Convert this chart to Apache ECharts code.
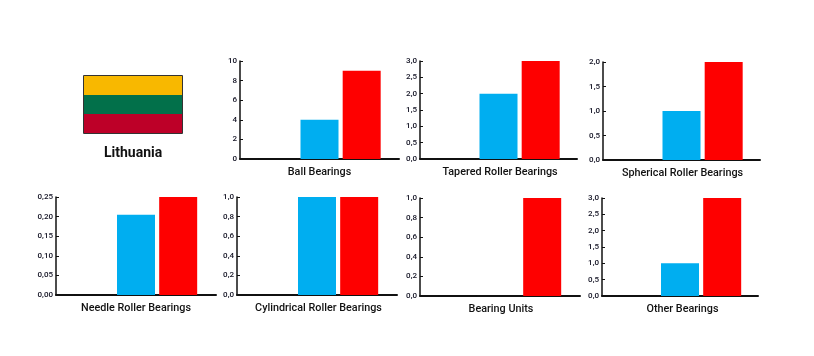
<!DOCTYPE html>
<html>
<head>
<meta charset="utf-8">
<script src="https://cdn.jsdelivr.net/npm/echarts@6/dist/echarts.min.js"></script>
<style>
html, body { margin: 0; padding: 0; background: #fff; }
#main { width: 814px; height: 356px; }
</style>
</head>
<body>
<div id="main"></div>
<script>
const countryName = 'Lithuania';
const categories = ['Ball Bearings', 'Tapered Roller Bearings', 'Spherical Roller Bearings', 'Needle Roller Bearings', 'Cylindrical Roller Bearings', 'Bearing Units', 'Other Bearings'];
const blackValues = [0, 0, 0, 0, 0, 0, 0];
const blueValues = [4, 2, 1, 0.205, 1, 0, 1];
const redValues = [9, 3, 2, 0.25, 1, 1, 3];
const axisMax = [10, 3, 2, 0.25, 1, 1, 3];
const axisStep = [2, 0.5, 0.5, 0.05, 0.2, 0.2, 0.5];
const axisDigits = [0, 1, 1, 2, 1, 1, 1];
const flagColors = ['#f8b800', '#02704a', '#bd0028'];

// panel boxes [left, top, width, height]
const boxes = [
  [240, 61, 159, 98],
  [420, 61, 157, 98],
  [603, 62, 157, 98],
  [56, 197, 160, 98],
  [237, 197, 160, 98],
  [420, 198, 160, 98],
  [602, 198, 156, 98],
];
// left padding that nudges each category label sideways
const labelNudge = [0, 3, 2, 0, 3, 2, 5];

const font = 'Roboto';
const grid = [], xAxis = [], yAxis = [], series = [];

categories.forEach((name, i) => {
  const box = boxes[i];
  grid.push({ left: box[0], top: box[1], width: box[2], height: box[3], containLabel: false });
  xAxis.push({
    type: 'category',
    gridIndex: i,
    data: [name],
    axisTick: { show: false },
    axisLine: { lineStyle: { color: '#111', width: 2 } },
    axisLabel: {
      color: '#111',
      fontFamily: font,
      fontWeight: 500,
      fontSize: 10.8,
      margin: 8,
      padding: [0, 0, 0, labelNudge[i]],
    },
  });
  yAxis.push({
    type: 'value',
    gridIndex: i,
    min: 0,
    max: axisMax[i],
    interval: axisStep[i],
    splitLine: { show: false },
    axisLine: { show: true, lineStyle: { color: '#111', width: 1.5 } },
    axisTick: { show: true, length: 3, inside: true, lineStyle: { color: '#111', width: 1 } },
    axisLabel: {
      color: '#112',
      fontFamily: font,
      fontWeight: 500,
      fontSize: 8,
      margin: 3,
      formatter: v => v.toFixed(axisDigits[i]).replace('.', ','),
    },
  });
  const common = { type: 'bar', xAxisIndex: i, yAxisIndex: i, barWidth: 38, barGap: '11%', silent: true };
  series.push({ ...common, name: 'Black', data: [blackValues[i]], itemStyle: { color: '#111', borderColor: '#111', borderWidth: 1 } });
  series.push({ ...common, name: 'Blue', data: [blueValues[i]], itemStyle: { color: '#00aef0' } });
  series.push({ ...common, name: 'Red', data: [redValues[i]], itemStyle: { color: '#fe0000' } });
});

const flagTop = 76;
const flagBandH = 19;
const flagGraphics = flagColors.map((c, i) => ({
  type: 'rect',
  shape: { x: 84, y: flagTop + i * flagBandH, width: 98, height: flagBandH },
  style: { fill: c },
}));
flagGraphics.push({
  type: 'rect',
  shape: { x: 83.5, y: 75.5, width: 99, height: 58 },
  style: { fill: 'none', stroke: '#333', lineWidth: 1 },
});

const myChart = echarts.init(document.getElementById('main'), null, { renderer: 'canvas' });
myChart.setOption({
  animation: false,
  backgroundColor: '#fff',
  title: {
    text: countryName,
    left: 99,
    top: 141,
    textStyle: { color: '#111', fontFamily: font, fontWeight: 700, fontSize: 14 },
  },
  graphic: flagGraphics,
  grid,
  xAxis,
  yAxis,
  series,
});
</script>
</body>
</html>
